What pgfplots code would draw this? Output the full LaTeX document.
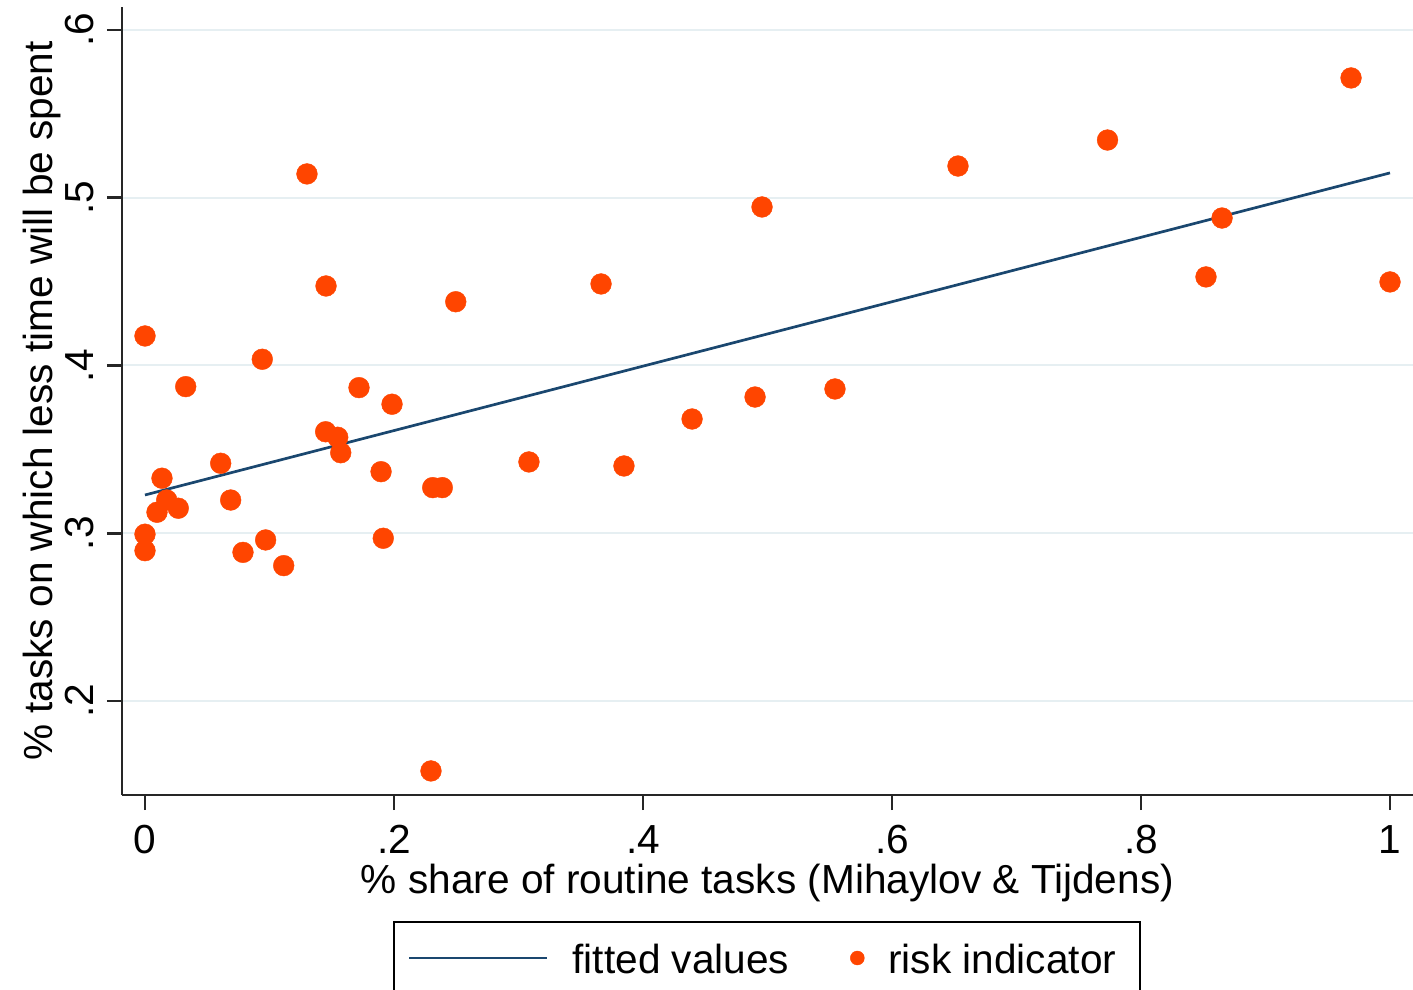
\documentclass[border=0pt]{standalone}
\usepackage{fontspec}
\setmainfont{Liberation Sans}
\usepackage{pgfplots}
\pgfplotsset{compat=1.18}
\definecolor{statanavy}{HTML}{1A476F}
\definecolor{dotorange}{HTML}{FF4500}
\definecolor{gridc}{HTML}{E6EFF2}
\newcommand{\fs}{\fontsize{20.3}{24}\selectfont}
\pgfplotsset{
  lineleg/.style={legend image code/.code={\draw[##1] (0pt,0pt) -- (69pt,0pt);}},
  dotleg/.style={legend image code/.code={\draw[mark repeat=2,mark phase=2,##1,mark size=3.5pt] plot coordinates {(0pt,0pt) (8.5pt,0pt) (12.5pt,0pt)};}},
}

\begin{document}
\begin{tikzpicture}
\begin{axis}[
 name=ax,
 scale only axis,
 width=645.5pt, height=394pt,
 xmin=-0.01847, xmax=1.01847,
 ymin=0.14396, ymax=0.6137,
 axis x line*=bottom, axis y line*=left,
 axis line style={line width=1.3pt, color=black!85, -},
 tick style={line width=1.3pt, color=black!85},
 tick align=outside, major tick length=7.5pt,
 xtick={0,0.2,0.4,0.6,0.8,1}, xticklabels={0,.2,.4,.6,.8,1},
 ytick={0.2,0.3,0.4,0.5,0.6}, yticklabels={.2,.3,.4,.5,.6},
 minor tick num=0,
 ymajorgrids, grid style={gridc, line width=1pt},
 tick label style={font=\fs},
 /pgf/number format/assume math mode=true,
 yticklabel style={rotate=90, anchor=south, inner sep=0pt, yshift=6.5pt},
 xticklabel style={anchor=north, inner sep=0pt, yshift=-7.5pt},
 xlabel={\% share of routine tasks (Mihaylov \& Tijdens)},
 ylabel={\% tasks on which less time will be spent},
 label style={font=\fs},
 xlabel style={at={(axis description cs:0.5,-0.1244)}, anchor=base},
 ylabel style={at={(axis description cs:-0.0542,0.5)}, anchor=base},
 legend columns=2,
 legend style={at={(axis description cs:0.2099,-0.1599)}, anchor=north west,
   draw=black, line width=1pt, inner xsep=7pt, inner ysep=10pt, font=\fs,
   nodes={inner sep=0pt, text height=15.5pt, text depth=0.5pt},
   /tikz/every odd column/.append style={column sep=12pt},
   /tikz/every even column/.append style={column sep=30.5pt}},
]
\addplot[statanavy, line width=1.35pt, lineleg]
  coordinates {(0,0.3228) (1,0.5148)};
\addlegendentry{fitted values}
\addplot[only marks, mark=*, mark size=5.2pt,
  mark options={draw=dotorange, fill=dotorange, line width=0.2pt}, dotleg]
  table {
x y
0 0.4176
0 0.2994
0 0.2896
0.00964 0.3125
0.01365 0.3328
0.01743 0.3198
0.02675 0.3149
0.03269 0.3874
0.0608 0.3417
0.0688 0.3198
0.0787 0.2886
0.0942 0.4037
0.0969 0.2960
0.1114 0.2807
0.1301 0.5142
0.1454 0.4474
0.1451 0.3605
0.1548 0.3572
0.1572 0.3480
0.1719 0.3868
0.1896 0.3367
0.1914 0.2970
0.1984 0.3769
0.2311 0.3272
0.2388 0.3272
0.2297 0.1583
0.2496 0.4380
0.3084 0.3425
0.3663 0.4486
0.3847 0.3401
0.4394 0.3681
0.4900 0.3812
0.4956 0.4945
0.5542 0.3860
0.6530 0.5189
0.7731 0.5344
0.8522 0.4528
0.8651 0.4879
0.9687 0.5714
1.0 0.4498
};
\addlegendentry{risk indicator\hspace*{5pt}\mbox{}}
\end{axis}
\pgfresetboundingbox
\path[use as bounding box] ([xshift=-61pt,yshift=-97.5pt]ax.south west) rectangle ([yshift=3.5pt]ax.north east);
\end{tikzpicture}
\end{document}
